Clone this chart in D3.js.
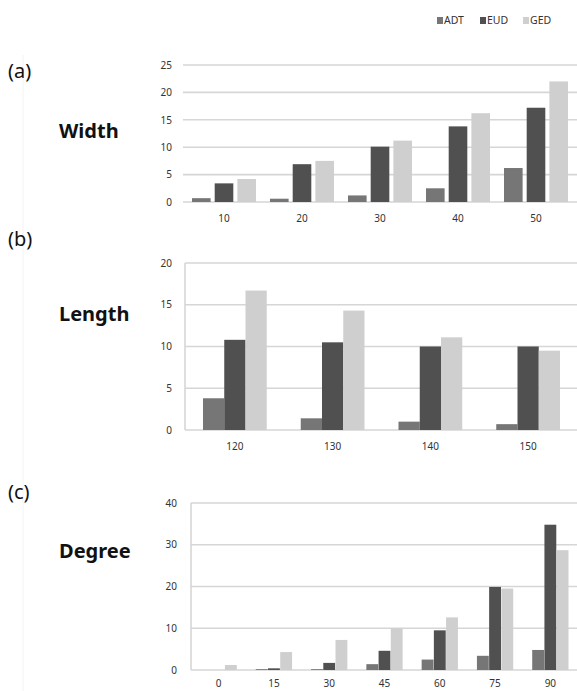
<!DOCTYPE html>
<html>
<head>
<meta charset="utf-8">
<script src="https://cdn.jsdelivr.net/npm/d3@7"></script>
<style>
  body { margin: 0; background: #fff; }
  svg { display: block; }
</style>
</head>
<body>
<div id="chart"></div>
<script>
// series names + colours
const seriesNames = ["ADT", "EUD", "GED"];
const seriesColors = ["#767676", "#505050", "#cfcfcf"];

// (a) width
const widthCats = ["10", "20", "30", "40", "50"];
const widthADT = [0.7, 0.6, 1.2, 2.5, 6.2];
const widthEUD = [3.4, 6.9, 10.1, 13.8, 17.2];
const widthGED = [4.2, 7.5, 11.2, 16.2, 22.0];
const widthTicks = [0, 5, 10, 15, 20, 25];

// (b) length
const lengthCats = ["120", "130", "140", "150"];
const lengthADT = [3.8, 1.4, 1.0, 0.7];
const lengthEUD = [10.8, 10.5, 10.0, 10.0];
const lengthGED = [16.7, 14.3, 11.1, 9.5];
const lengthTicks = [0, 5, 10, 15, 20];

// (c) degree
const degreeCats = ["0", "15", "30", "45", "60", "75", "90"];
const degreeADT = [0, 0.2, 0.2, 1.4, 2.5, 3.4, 4.8];
const degreeEUD = [0, 0.4, 1.7, 4.6, 9.5, 19.9, 34.8];
const degreeGED = [1.2, 4.3, 7.2, 10.0, 12.6, 19.5, 28.7];
const degreeTicks = [0, 10, 20, 30, 40];

const W = 577, H = 691;
const svg = d3.select("#chart").append("svg")
    .attr("width", W)
    .attr("height", H);

const tickFont = "'Noto Sans', 'DejaVu Sans', sans-serif";

// faint frame line on the left (scan artefact in the original)
svg.append("line")
    .attr("x1", 23).attr("x2", 23)
    .attr("y1", 55).attr("y2", H)
    .attr("stroke", "#f3f3f3");

// legend top right
const legend = svg.append("g");
const legendX = [437, 480, 523];
seriesNames.forEach(function(name, i) {
    legend.append("rect")
        .attr("x", legendX[i]).attr("y", 17)
        .attr("width", 6).attr("height", 7)
        .attr("fill", seriesColors[i]);
    legend.append("text")
        .attr("x", legendX[i] + 7).attr("y", 21)
        .attr("dominant-baseline", "middle")
        .style("font-family", tickFont)
        .style("font-size", "10.5px")
        .style("fill", "#333")
        .text(name);
});

function drawPanel(opts) {
    const g = svg.append("g");
    const rows = opts.cats.map(function(c, i) {
        return { cat: c, values: [opts.adt[i], opts.eud[i], opts.ged[i]] };
    });

    const x = d3.scaleBand()
        .domain(opts.cats)
        .range([opts.x0, opts.x1])
        .padding(0);
    const inner = d3.scaleBand()
        .domain(seriesNames)
        .range([opts.groupPad, x.bandwidth() - opts.groupPad])
        .paddingInner(opts.barGap);
    const y = d3.scaleLinear()
        .domain([0, d3.max(opts.ticks)])
        .range([opts.y0, opts.y1]);

    // gridlines
    g.append("g").selectAll("line")
        .data(opts.ticks)
        .enter().append("line")
        .attr("x1", opts.gridLeft).attr("x2", W)
        .attr("y1", d => y(d)).attr("y2", d => y(d))
        .attr("stroke", "#d6d6d6")
        .attr("stroke-width", 1.6);

    if (opts.leftLine) {
        g.append("line")
            .attr("x1", opts.gridLeft).attr("x2", opts.gridLeft)
            .attr("y1", y(d3.max(opts.ticks))).attr("y2", y(0))
            .attr("stroke", "#d6d6d6")
            .attr("stroke-width", 1.6);
    }

    // y axis labels
    const yAxis = g.append("g")
        .attr("transform", `translate(${opts.tickX},0)`)
        .call(d3.axisLeft(y).tickValues(opts.ticks).tickSize(0).tickPadding(0));
    yAxis.select(".domain").remove();
    yAxis.selectAll("text")
        .style("font-family", tickFont)
        .style("font-size", "10px")
        .style("fill", "#333");

    // x axis labels
    const xAxis = g.append("g")
        .attr("transform", `translate(0,${opts.labelY})`)
        .call(d3.axisBottom(x).tickSize(0).tickPadding(0));
    xAxis.select(".domain").remove();
    xAxis.selectAll("text")
        .style("font-family", tickFont)
        .style("font-size", "10px")
        .style("fill", "#333");

    // bars
    const groups = g.append("g").selectAll("g")
        .data(rows)
        .enter().append("g")
        .attr("transform", d => `translate(${x(d.cat)},0)`);
    groups.selectAll("rect")
        .data(d => d.values.map(function(v, i) { return { name: seriesNames[i], value: v, i: i }; }))
        .enter().append("rect")
        .attr("x", d => inner(d.name))
        .attr("width", inner.bandwidth())
        .attr("y", d => y(d.value))
        .attr("height", d => y(0) - y(d.value))
        .attr("fill", d => seriesColors[d.i]);

    // side labels
    svg.append("text")
        .attr("x", 8).attr("y", opts.tagY)
        .attr("dominant-baseline", "middle")
        .style("font-family", tickFont)
        .style("font-size", "20px")
        .style("fill", "#111")
        .text(opts.tag);
    svg.append("text")
        .attr("x", 59).attr("y", opts.nameY)
        .attr("dominant-baseline", "middle")
        .style("font-family", tickFont)
        .style("font-size", "20px")
        .style("font-weight", "bold")
        .style("fill", "#111")
        .text(opts.name);
}

drawPanel({
    cats: widthCats, adt: widthADT, eud: widthEUD, ged: widthGED, ticks: widthTicks,
    x0: 185, x1: 575, groupPad: 7, barGap: 0.18,
    y0: 202, y1: 65, gridLeft: 183, leftLine: false,
    tickX: 172, labelY: 215,
    tag: "(a)", tagY: 73, name: "Width", nameY: 133
});

drawPanel({
    cats: lengthCats, adt: lengthADT, eud: lengthEUD, ged: lengthGED, ticks: lengthTicks,
    x0: 186, x1: 577, groupPad: 17, barGap: 0,
    y0: 430, y1: 263, gridLeft: 185, leftLine: true,
    tickX: 172, labelY: 443,
    tag: "(b)", tagY: 241, name: "Length", nameY: 316
});

drawPanel({
    cats: degreeCats, adt: degreeADT, eud: degreeEUD, ged: degreeGED, ticks: degreeTicks,
    x0: 191, x1: 578, groupPad: 9.5, barGap: 0.03,
    y0: 670, y1: 503, gridLeft: 191, leftLine: true,
    tickX: 177, labelY: 680,
    tag: "(c)", tagY: 494, name: "Degree", nameY: 553
});
</script>
</body>
</html>
